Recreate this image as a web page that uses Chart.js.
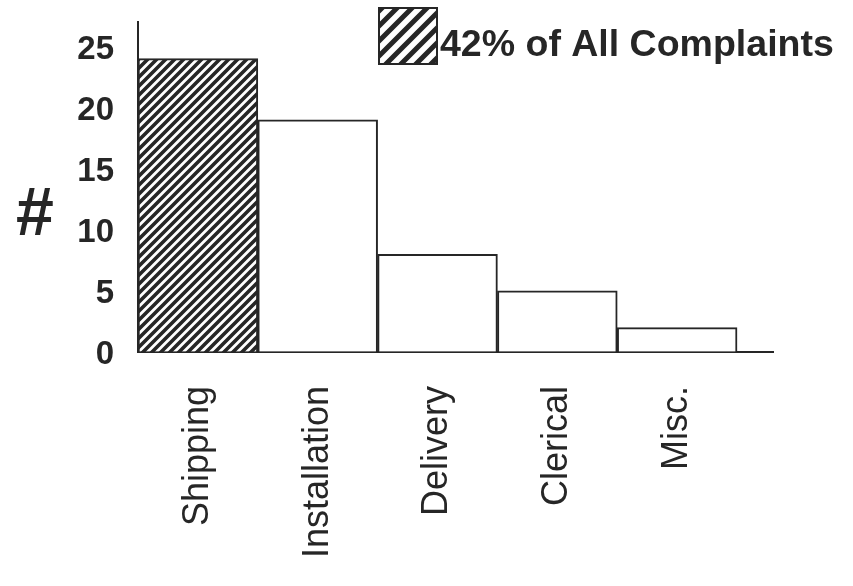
<!DOCTYPE html>
<html>
<head>
<meta charset="utf-8">
<script src="https://cdn.jsdelivr.net/npm/chart.js@4/dist/chart.umd.min.js"></script>
<style>
	html, body { margin: 0; padding: 0; background: #fff; }
	#wrap { width: 853px; height: 586px; }
</style>
</head>
<body>
<div id="wrap"><canvas id="chart-complaints"></canvas></div>
<script>
// complaint counts by category
var categories = ['Shipping', 'Installation', 'Delivery', 'Clerical', 'Misc.']
var complaints = [24, 19, 8, 5, 2]
var yTicks = [0, 5, 10, 15, 20, 25]
var legendText = '42% of All Complaints'
var yTitle = '#'

var ink = '#262626'
var font = "'Liberation Sans', Arial, Helvetica, sans-serif"

// diagonal hatch fill
function hatch (size, width) {
	var c = document.createElement('canvas')
	c.width = size
	c.height = size
	var g = c.getContext('2d')
	g.fillStyle = '#fff'
	g.fillRect(0, 0, size, size)
	g.strokeStyle = ink
	g.lineWidth = width
	g.beginPath()
	g.moveTo(-size, size * 2); g.lineTo(size * 2, -size)
	g.moveTo(-size, size); g.lineTo(size, -size)
	g.moveTo(0, size * 2); g.lineTo(size * 2, 0)
	g.stroke()
	return g.createPattern(c, 'repeat')
}

var barHatch = hatch(9, 3.6)
var legendHatch = hatch(15, 5)

// legend box and the "#" axis title
var extras = {
	id: 'extras',
	afterDraw: function (chart) {
		var ctx = chart.ctx
		ctx.save()

		ctx.fillStyle = legendHatch
		ctx.fillRect(379, 8, 58, 56)
		ctx.strokeStyle = ink
		ctx.lineWidth = 2
		ctx.strokeRect(379, 8, 58, 56)

		ctx.fillStyle = ink
		ctx.textBaseline = 'alphabetic'
		ctx.textAlign = 'left'
		ctx.font = 'bold 37.5px ' + font
		ctx.fillText(legendText, 440, 56)

		ctx.textAlign = 'center'
		ctx.font = 'bold 68px ' + font
		ctx.fillText(yTitle, 35, 235)
		ctx.restore()
	}
}

var ctx = document.getElementById('chart-complaints').getContext('2d')

var chart = new Chart(ctx, {
	type: 'bar',
	data: {
		datasets: [{
			label: legendText,
			data: complaints.map((v, i) => ({ x: i + 0.5, y: v })),
			backgroundColor: complaints.map((v, i) => i === 0 ? barHatch : '#fff'),
			borderColor: ink,
			borderWidth: 2,
			barPercentage: 1,
			categoryPercentage: 1
		}]
	},
	options: {
		responsive: true,
		maintainAspectRatio: false,
		animation: false,
		layout: {
			padding: { top: 22, right: 80, left: 0, bottom: 0 }
		},
		plugins: {
			legend: { display: false },
			tooltip: { enabled: false }
		},
		scales: {
			x: {
				type: 'linear',
				min: 0,
				max: 5.3,
				offset: false,
				afterBuildTicks: function (scale) {
					scale.ticks = categories.map((c, i) => ({ value: i + 0.5 }))
				},
				afterFit: function (scale) {
					scale.height = 234
					scale.paddingLeft = 0
					scale.paddingRight = 0
				},
				grid: { display: true, color: 'transparent', drawTicks: false },
				border: { display: true, color: ink, width: 2 },
				ticks: {
					autoSkip: false,
					minRotation: 90,
					maxRotation: 90,
					padding: 34,
					color: ink,
					font: { family: font, size: 36 },
					callback: function (value, index) {
						return categories[index]
					}
				}
			},
			y: {
				min: 0,
				max: 27,
				afterBuildTicks: function (scale) {
					scale.ticks = yTicks.map(v => ({ value: v }))
				},
				afterFit: function (scale) {
					scale.width = 138
					scale.paddingTop = 0
					scale.paddingBottom = 0
				},
				grid: { display: true, color: 'transparent', drawTicks: false },
				border: { display: true, color: ink, width: 2 },
				ticks: {
					padding: 24,
					labelOffset: 3,
					color: ink,
					font: { family: font, size: 33, weight: 'bold' }
				}
			}
		}
	},
	plugins: [extras]
})
</script>
</body>
</html>
